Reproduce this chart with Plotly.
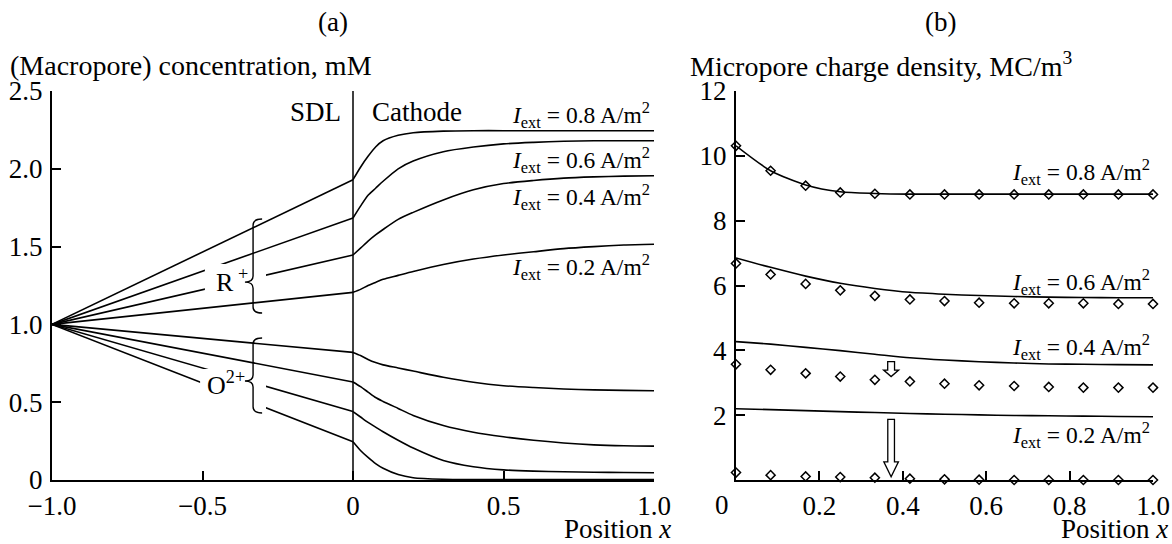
import plotly.graph_objects as go

# ---------------- data: panel (a) ----------------
sdl_x = [-1.0, 0.0]
cath_x = [0.0, 0.025, 0.05, 0.075, 0.1, 0.15, 0.2, 0.3, 0.4, 0.5, 0.6, 0.7, 0.8, 0.9, 1.0]
iext = ["0.2", "0.4", "0.6", "0.8"]
R_start = 1.0
O_start = 1.0
R_cath = {
    "0.8": [1.93, 2.01, 2.08, 2.14, 2.18, 2.215, 2.232, 2.242, 2.245, 2.245, 2.245, 2.245, 2.245, 2.245, 2.245],
    "0.6": [1.684, 1.76, 1.83, 1.875, 1.92, 2.00, 2.05, 2.11, 2.14, 2.16, 2.17, 2.177, 2.18, 2.18, 2.18],
    "0.4": [1.446, 1.49, 1.535, 1.575, 1.61, 1.675, 1.72, 1.80, 1.865, 1.905, 1.925, 1.94, 1.948, 1.953, 1.955],
    "0.2": [1.206, 1.225, 1.25, 1.27, 1.29, 1.315, 1.34, 1.385, 1.42, 1.446, 1.467, 1.487, 1.50, 1.51, 1.515],
}
O_cath = {
    "0.2": [0.82, 0.80, 0.775, 0.755, 0.74, 0.72, 0.70, 0.66, 0.628, 0.606, 0.594, 0.585, 0.579, 0.576, 0.574],
    "0.4": [0.63, 0.60, 0.565, 0.53, 0.505, 0.46, 0.415, 0.35, 0.307, 0.278, 0.255, 0.238, 0.226, 0.22, 0.218],
    "0.6": [0.44, 0.405, 0.37, 0.34, 0.31, 0.255, 0.205, 0.125, 0.085, 0.065, 0.057, 0.053, 0.05, 0.048, 0.047],
    "0.8": [0.246, 0.19, 0.145, 0.105, 0.075, 0.035, 0.015, 0.005, 0.003, 0.003, 0.003, 0.003, 0.003, 0.003, 0.003],
}
a_xticks = [-1.0, -0.5, 0.0, 0.5, 1.0]
a_xlabels = ["\u22121.0", "\u22120.5", "0", "0.5", "1.0"]
a_yticks = [0, 0.5, 1.0, 1.5, 2.0, 2.5]
a_ylabels = ["0", "0.5", "1.0", "1.5", "2.0", "2.5"]
a_label_y = {"0.8": 2.346, "0.6": 2.057, "0.4": 1.819, "0.2": 1.369}

# ---------------- data: panel (b) ----------------
b_x = [0.0, 0.083, 0.167, 0.25, 0.333, 0.417, 0.5, 0.583, 0.667, 0.75, 0.833, 0.917, 1.0]
b_line = {
    "0.8": [10.31, 9.54, 9.10, 8.89, 8.84, 8.82, 8.82, 8.82, 8.82, 8.82, 8.82, 8.82, 8.82],
    "0.6": [6.85, 6.56, 6.29, 6.07, 5.91, 5.79, 5.73, 5.69, 5.66, 5.64, 5.63, 5.62, 5.62],
    "0.4": [4.27, 4.19, 4.09, 3.99, 3.88, 3.77, 3.70, 3.65, 3.61, 3.58, 3.57, 3.56, 3.55],
    "0.2": [2.20, 2.17, 2.14, 2.11, 2.08, 2.05, 2.03, 2.01, 1.99, 1.98, 1.97, 1.96, 1.95],
}
b_pts = {
    "0.8": [10.31, 9.54, 9.08, 8.87, 8.83, 8.81, 8.81, 8.81, 8.81, 8.81, 8.81, 8.81, 8.81],
    "0.6": [6.68, 6.34, 6.05, 5.85, 5.68, 5.57, 5.52, 5.47, 5.45, 5.45, 5.45, 5.43, 5.43],
    "0.4": [3.57, 3.40, 3.29, 3.19, 3.09, 3.04, 2.97, 2.92, 2.90, 2.87, 2.85, 2.85, 2.85],
    "0.2": [0.23, 0.15, 0.11, 0.09, 0.07, 0.04, 0.02, 0.01, 0.0, 0.0, 0.0, 0.0, 0.0],
}
b_xticks = [0.0, 0.2, 0.4, 0.6, 0.8, 1.0]
b_xlabels = ["", "0.2", "0.4", "0.6", "0.8", "1.0"]
b_zero_label = "0"
b_yticks = [2, 4, 6, 8, 10, 12]
b_ylabels = ["2", "4", "6", "8", "10", "12"]
b_label_y = {"0.8": 9.51, "0.6": 6.12, "0.4": 4.10, "0.2": 1.39}

FONT = '"Liberation Serif", "Times New Roman", "DejaVu Serif", serif'
FS_TICK = 27
FS_TITLE = 28
FS_LAB = 23.5
LW = 1.6

fig = go.Figure()

# panel (a) curves
for k in iext:
    for start, cath in ((R_start, R_cath[k]), (O_start, O_cath[k])):
        fig.add_trace(go.Scatter(x=sdl_x, y=[start, cath[0]], mode="lines",
                                 line=dict(color="black", width=LW),
                                 xaxis="x", yaxis="y", showlegend=False))
        fig.add_trace(go.Scatter(x=cath_x, y=cath, mode="lines",
                                 line=dict(color="black", width=LW, shape="spline", smoothing=0.7),
                                 xaxis="x", yaxis="y", showlegend=False))

# panel (b) curves + markers
for k in iext:
    fig.add_trace(go.Scatter(x=b_x, y=b_line[k], mode="lines",
                             line=dict(color="black", width=LW, shape="spline", smoothing=0.7),
                             xaxis="x2", yaxis="y2", showlegend=False))
    fig.add_trace(go.Scatter(x=b_x, y=b_pts[k], mode="markers", cliponaxis=False,
                             marker=dict(symbol="diamond-open", size=7, color="black",
                                         line=dict(color="black", width=1.5)),
                             xaxis="x2", yaxis="y2", showlegend=False))

axis_common = dict(showline=True, linecolor="black", linewidth=2.3, ticks="inside",
                   ticklen=9, tickwidth=2, tickcolor="black", showgrid=False, zeroline=False,
                   automargin=False,
                   tickfont=dict(family=FONT, size=FS_TICK, color="black"), fixedrange=True)

W, H = 1172, 544
fig.update_layout(
    width=W, height=H, margin=dict(l=0, r=0, t=0, b=0, autoexpand=False),
    paper_bgcolor="white", plot_bgcolor="white",
    font=dict(family=FONT, size=FS_TICK, color="black"),
    xaxis=dict(domain=[52 / W, 654 / W], range=[-1, 1], tickmode="array",
               tickvals=a_xticks, ticktext=a_xlabels, anchor="y", ticklabelstandoff=0, **axis_common),
    yaxis=dict(domain=[(H - 480) / H, (H - 91) / H], range=[0, 2.5], tickmode="array",
               tickvals=a_yticks, ticktext=a_ylabels, anchor="x", ticklabelstandoff=2, **axis_common),
    xaxis2=dict(domain=[736 / W, 1153 / W], range=[0, 1], tickmode="array",
                tickvals=b_xticks, ticktext=b_xlabels, anchor="y2", ticklabelstandoff=0, **axis_common),
    yaxis2=dict(domain=[(H - 480) / H, (H - 91) / H], range=[0, 12], tickmode="array",
                tickvals=b_yticks, ticktext=b_ylabels, anchor="x2", ticklabelstandoff=2, **axis_common),
)

ann = []
def txt(text, x, y, xref="paper", yref="paper", xanchor="center", yanchor="middle", size=FS_TITLE):
    ann.append(dict(text=text, x=x, y=y, xref=xref, yref=yref, xanchor=xanchor,
                    yanchor=yanchor, showarrow=False,
                    font=dict(family=FONT, size=size, color="black")))

txt("(a)", 333 / W, 1 - 22 / H, size=27)
txt("(b)", 940 / W, 1 - 22 / H, size=27)
txt("(Macropore) concentration, mM", 8 / W, 1 - 65 / H, xanchor="left")
txt("Micropore charge density, MC/m<sup>3</sup>", 688 / W, 1 - 64 / H, xanchor="left")
txt("Position <i>x</i>", 673 / W, 1 - 529 / H, xanchor="right", size=27)
txt("Position <i>x</i>", 1170 / W, 1 - 529 / H, xanchor="right", size=27)
txt(b_zero_label, 722 / W, 1 - 505 / H, size=FS_TICK)
txt("SDL", -0.033, 2.365, "x", "y", xanchor="right", size=27)
txt("Cathode", 0.056, 2.365, "x", "y", xanchor="left", size=27)
for k in iext:
    txt("<i>I</i><sub>ext</sub> = %s A/m<sup>2</sup>" % k, 0.993, a_label_y[k], "x", "y",
        xanchor="right", size=FS_LAB)
    txt("<i>I</i><sub>ext</sub> = %s A/m<sup>2</sup>" % k, 0.998, b_label_y[k], "x2", "y2",
        xanchor="right", size=FS_LAB)
txt("R<sup> +</sup>", -0.402, 1.285, "x", "y", size=26)
txt("O<sup>2+</sup>", -0.422, 0.623, "x", "y", size=26)

shapes = []
# SDL / cathode boundary
shapes.append(dict(type="line", xref="x", yref="y", x0=0, x1=0, y0=0, y1=2.5,
                   line=dict(color="black", width=1.5), layer="above"))
# white masks behind the species labels
for (x0, x1, y0, y1) in [(-0.492, -0.289, 1.170, 1.388), (-0.508, -0.289, 0.437, 0.713)]:
    shapes.append(dict(type="rect", xref="x", yref="y", x0=x0, x1=x1, y0=y0, y1=y1,
                       fillcolor="white", line=dict(width=0), layer="above"))

def brace(xs, xe, xc, yt, yb, yc, r):
    return ("M %f,%f Q %f,%f %f,%f L %f,%f Q %f,%f %f,%f Q %f,%f %f,%f L %f,%f Q %f,%f %f,%f"
            % (xe, yt, xs, yt, xs, yt - r, xs, yc + r, xs, yc, xc, yc,
               xs, yc, xs, yc - r, xs, yb + r, xs, yb, xe, yb))

shapes.append(dict(type="path", xref="x", yref="y", layer="above",
                   path=brace(-0.332, -0.302, -0.359, 1.677, 1.073, 1.272, 0.039),
                   line=dict(color="black", width=1.4)))
shapes.append(dict(type="path", xref="x", yref="y", layer="above",
                   path=brace(-0.332, -0.302, -0.359, 0.913, 0.431, 0.636, 0.039),
                   line=dict(color="black", width=1.4)))

def hollow_arrow(xc, ws, wh, ytop, yhead, ytip):
    return ("M %f,%f L %f,%f L %f,%f L %f,%f L %f,%f L %f,%f L %f,%f Z"
            % (xc - ws, ytop, xc + ws, ytop, xc + ws, yhead, xc + wh, yhead,
               xc, ytip, xc - wh, yhead, xc - ws, yhead))

shapes.append(dict(type="path", xref="x2", yref="y2", layer="above", fillcolor="white",
                   path=hollow_arrow(0.372, 0.0082, 0.018, 3.65, 3.39, 3.19),
                   line=dict(color="black", width=1.3)))
shapes.append(dict(type="path", xref="x2", yref="y2", layer="above", fillcolor="white",
                   path=hollow_arrow(0.372, 0.0080, 0.0175, 1.87, 0.56, 0.10),
                   line=dict(color="black", width=1.3)))

fig.update_layout(annotations=ann, shapes=shapes)
fig.write_html("out.html", config={"displayModeBar": False},
               post_script="document.body.style.margin='0';")
